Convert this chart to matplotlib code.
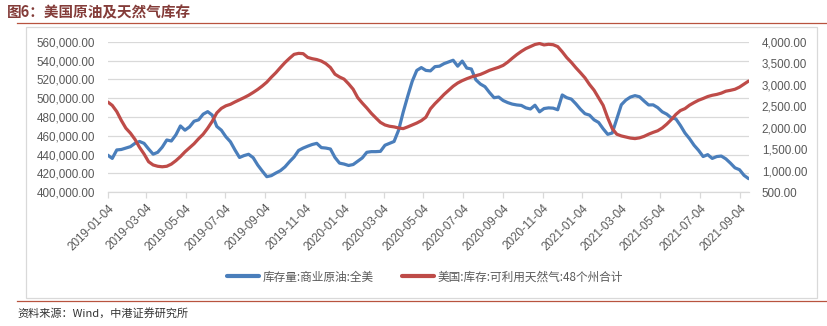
import matplotlib
matplotlib.use("Agg")
import matplotlib.pyplot as plt
import matplotlib.dates as mdates
from matplotlib.ticker import FuncFormatter
from matplotlib.patches import Rectangle
from matplotlib.lines import Line2D
import pandas as pd

plt.rcParams['font.family'] = ['Liberation Sans', 'Noto Sans CJK SC', 'DejaVu Sans']

# ---------------- data ----------------
dates = pd.date_range('2019-01-04', '2021-09-17', freq='7D')

crude = [439500, 436000, 445000, 445500, 447000, 448500, 452000, 454000, 452000, 446000,
         440500, 442500, 448000, 455600, 454500, 461000, 470500, 466000, 469500, 475500,
         477000, 483000, 485700, 482000, 470000, 466000, 459000, 453700, 445000, 437000,
         439000, 440400, 436800, 429000, 422600, 416600, 417700, 420500, 423000, 427000,
         432500, 437500, 444500, 447000, 449000, 450800, 452000, 447500, 447000, 446000,
         437000, 431000, 430000, 428500, 429500, 433000, 436500, 442500, 443200, 443200,
         443500, 450000, 452000, 454000, 466000, 485000, 502000, 518000, 529500, 532500,
         529500, 529000, 533500, 534000, 536700, 538500, 540300, 534000, 539400, 532000,
         531000, 519500, 515000, 512200, 506000, 500500, 501200, 497500, 495300, 493700,
         492800, 492300, 489700, 488500, 492500, 485500, 489000, 489700, 489400, 487700,
         503400, 500500, 499000, 494000, 488300, 483500, 482000, 477000, 474200, 467500,
         461600, 463000, 478000, 493000, 498000, 501200, 502700, 501500, 497000, 492800,
         492900, 490000, 485500, 483000, 479000, 478000, 471000, 463000, 457000, 450000,
         444500, 438000, 440000, 436000, 438000, 438500, 435500, 431000, 426000, 424000,
         418000, 414500]

gas = [2600, 2520, 2375, 2170, 1990, 1875, 1730, 1545, 1390, 1210,
       1135, 1105, 1093, 1105, 1155, 1235, 1330, 1440, 1535, 1629,
       1745, 1850, 1990, 2150, 2345, 2450, 2510, 2545, 2600, 2650,
       2700, 2755, 2820, 2890, 2970, 3060, 3175, 3280, 3400, 3515,
       3615, 3706, 3729, 3722, 3635, 3605, 3585, 3550, 3490, 3400,
       3245, 3180, 3130, 3020, 2895, 2700, 2575, 2460, 2335, 2228,
       2125, 2065, 2035, 2020, 1995, 1980, 2020, 2065, 2110, 2165,
       2245, 2440, 2560, 2665, 2775, 2870, 2965, 3040, 3095, 3140,
       3180, 3210, 3240, 3285, 3335, 3370, 3405, 3450, 3525, 3615,
       3700, 3775, 3840, 3887, 3935, 3958, 3925, 3940, 3930, 3886,
       3765, 3630, 3520, 3395, 3280, 3160, 3005, 2873, 2695, 2520,
       2230, 1980, 1850, 1810, 1785, 1760, 1748, 1765, 1800, 1850,
       1893, 1930, 1995, 2085, 2190, 2310, 2400, 2445, 2525, 2585,
       2640, 2680, 2725, 2755, 2775, 2805, 2850, 2870, 2895, 2945,
       3015, 3085]

tick_dates = pd.date_range('2019-01-04', periods=17, freq=pd.DateOffset(months=2))
left_ticks = [400000, 420000, 440000, 460000, 480000, 500000, 520000, 540000, 560000]
right_ticks = [500, 1000, 1500, 2000, 2500, 3000, 3500, 4000]

title = '图6：美国原油及天然气库存'
label_crude = '库存量:商业原油:全美'
label_gas = '美国:库存:可利用天然气:48个州合计'
source = '资料来源：Wind，中港证券研究所'

# ---------------- styles ----------------
W, H = 828, 326
BLUE = '#4A7EBB'
RED = '#BE4B48'
GRID = '#D9D9D9'
TXT = '#595959'
fs = 8.4

fig = plt.figure(figsize=(W / 100, H / 100), dpi=100)

def fx(px):
    return px / W

def fy(py):
    return 1 - py / H

# outer frame of chart
fig.patches.append(Rectangle((fx(26), fy(298)), fx(817) - fx(26), fy(27) - fy(298),
                             transform=fig.transFigure, fill=False,
                             edgecolor=GRID, linewidth=0.9))
# title + rules
fig.text(fx(7), fy(12), title, family=['Noto Sans CJK SC'], fontweight='bold',
         fontsize=10.5, color='#843C39', va='center', ha='left')
fig.add_artist(Line2D([fx(17), fx(828)], [fy(23.3), fy(23.3)], transform=fig.transFigure,
                      color='#B8533F', linewidth=0.9))
fig.add_artist(Line2D([fx(17), fx(828)], [fy(301), fy(301)], transform=fig.transFigure,
                      color='#B8533F', linewidth=0.9))
fig.text(fx(17), fy(313), source, family=['Noto Sans CJK SC'], style='italic',
         fontsize=8, color='#333333', va='center', ha='left')

left, right, top, bottom = 107.7, 748.6, 41.7, 192.3
ax = fig.add_axes([fx(left), fy(bottom), fx(right) - fx(left), fy(top) - fy(bottom)])
ax2 = ax.twinx()

l1, = ax.plot(dates, crude, color=BLUE, linewidth=2.3, solid_capstyle='round',
              solid_joinstyle='round', label=label_crude)
l2, = ax2.plot(dates, gas, color=RED, linewidth=2.3, solid_capstyle='round',
               solid_joinstyle='round', label=label_gas)

ax.set_xlim(dates[0], dates[-1])
ax.set_ylim(400000, 560000)
ax2.set_ylim(500, 4000)
ax.set_yticks(left_ticks)
ax2.set_yticks(right_ticks)
ax.yaxis.set_major_formatter(FuncFormatter(lambda v, p: f'{v:,.2f}'))
ax2.yaxis.set_major_formatter(FuncFormatter(lambda v, p: f'{v:,.2f}'))
ax.set_xticks(tick_dates)
ax.xaxis.set_major_formatter(mdates.DateFormatter('%Y-%m-%d'))

ax.grid(axis='y', color=GRID, linewidth=0.9)
ax.set_axisbelow(True)
for a in (ax, ax2):
    for s in ('left', 'right', 'top'):
        a.spines[s].set_visible(False)
    a.spines['bottom'].set_visible(False)
ax.spines['bottom'].set_visible(True)
ax.spines['bottom'].set_color(GRID)
ax.spines['bottom'].set_linewidth(0.9)

ax.tick_params(axis='y', length=0, pad=9, labelsize=fs, labelcolor=TXT)
ax2.tick_params(axis='y', length=0, pad=9.5, labelsize=fs, labelcolor=TXT)
ax.tick_params(axis='x', length=4, width=0.9, color=GRID, labelsize=fs, labelcolor=TXT, pad=3)
for lab in ax.get_xticklabels():
    lab.set_rotation(45)
    lab.set_ha('right')
    lab.set_va('top')
    lab.set_rotation_mode('anchor')

leg = fig.legend(handles=[l1, l2], loc='center', bbox_to_anchor=(fx(425), fy(277)),
                 ncol=2, frameon=False, handlelength=2.8, handletextpad=0.3,
                 columnspacing=2.4, prop={'family': ['Noto Sans CJK SC'], 'size': fs})
for t in leg.get_texts():
    t.set_color(TXT)
for h in leg.legend_handles:
    h.set_linewidth(3)

fig.savefig('out.png', dpi=100)
